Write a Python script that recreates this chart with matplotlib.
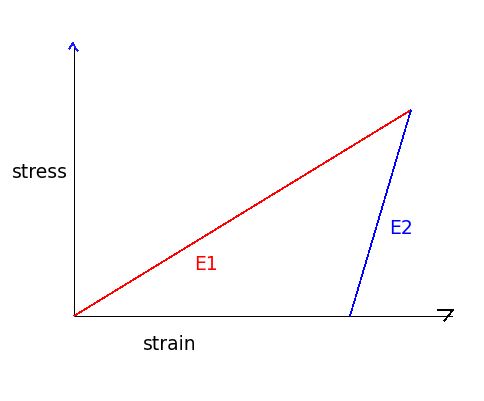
import matplotlib
matplotlib.use("Agg")
import matplotlib.pyplot as plt

# sketch coordinates (pixel space of the drawing)
origin = (74, 316)
y_axis_top = (74, 45)
x_axis_end = (452, 316)
peak = (411, 110)
unload_start = (350, 316)

y_arrow_x = [69, 73, 76, 78]
y_arrow_y = [49, 43, 49, 51]
x_arrow_x = [437, 453, 444]
x_arrow_y = [310, 310, 321]

labels = {"stress": (40, 172), "strain": (170, 345), "E1": (206, 265), "E2": (401, 228)}

fig = plt.figure(figsize=(4.85, 4.01), dpi=100)
ax = fig.add_axes([0, 0, 1, 1])
ax.set_xlim(0, 485)
ax.set_ylim(401, 0)
ax.axis("off")

kw = dict(lw=0.7, antialiased=False, solid_capstyle="butt")
kwd = dict(lw=0.45, antialiased=False, solid_capstyle="butt")
ax.plot([origin[0], y_axis_top[0]], [origin[1], y_axis_top[1]], color="black", **kw)
ax.plot([origin[0], x_axis_end[0]], [origin[1], x_axis_end[1]], color="black", **kw)
ax.plot(y_arrow_x, y_arrow_y, color="#1a1aff", **kwd)
ax.plot(x_arrow_x, x_arrow_y, color="black", **kwd)
ax.plot([origin[0], peak[0]], [origin[1], peak[1]], color="red", **kwd)
ax.plot([unload_start[0], peak[0]], [unload_start[1], peak[1]], color="blue", **kwd)

fs = 13.5
ax.text(*labels["stress"], "stress", fontsize=fs, color="black", ha="center", va="center")
ax.text(*labels["strain"], "strain", fontsize=fs, color="black", ha="center", va="center")
ax.text(*labels["E1"], "E1", fontsize=fs, color="red", ha="center", va="center")
ax.text(*labels["E2"], "E2", fontsize=fs, color="blue", ha="center", va="center")

fig.savefig("out.png", dpi=100, facecolor="white")
